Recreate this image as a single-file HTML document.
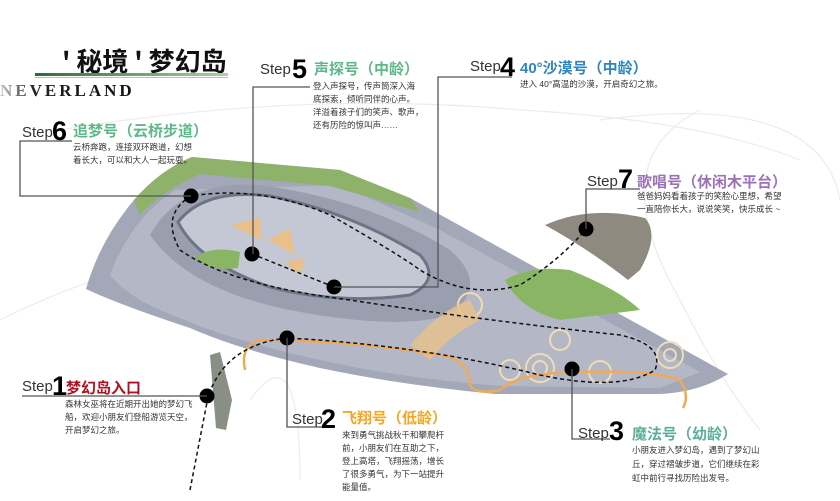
<!DOCTYPE html>
<html><head><meta charset="utf-8"><style>
html,body{margin:0;padding:0;background:#fff;}
svg{display:block;}
.st{font-family:"Liberation Sans",sans-serif;font-size:15px;fill:#333;}
.num{font-family:"Liberation Sans",sans-serif;font-weight:bold;font-size:27px;fill:#000;}
.tt{font-family:"Liberation Sans","Noto Sans CJK SC",sans-serif;font-size:15px;font-weight:bold;}
.d{font-family:"Liberation Sans","Noto Sans CJK SC",sans-serif;font-size:8.5px;fill:#333;}
.ln{stroke:#555;stroke-width:1.3;fill:none;}
</style></head><body>
<svg width="840" height="501" viewBox="0 0 840 501" xmlns="http://www.w3.org/2000/svg">
<defs>
<linearGradient id="ul" x1="0" x2="1"><stop offset="0" stop-color="#2e6b3c"/><stop offset="1" stop-color="#a9d3a0"/></linearGradient>
<linearGradient id="nv" x1="0" x2="1"><stop offset="0" stop-color="#ccc"/><stop offset="0.25" stop-color="#222"/><stop offset="1" stop-color="#111"/></linearGradient>
</defs>
<g stroke="#ececec" fill="none" stroke-width="1.2">
<path d="M60 130 Q300 90 520 110 Q700 120 800 160"/>
<path d="M600 120 Q820 90 840 200"/>
<path d="M700 110 Q600 160 680 300 Q720 380 760 430"/>
<path d="M0 320 Q120 260 260 240"/>
<path d="M250 400 Q300 330 300 480"/>
</g>
<!-- island -->
<path d="M86 289 Q100 240 134 200 Q160 170 192 157 L340 170 L410 198 L728 374 Q700 392 660 394 L495 394 Q400 385 320 368 Q240 350 190 328 Q120 305 86 289 Z" fill="#a3a8b8"/>
<path d="M110 275 Q130 220 175 190 L340 185 L440 230 L700 372 L660 388 L500 386 Q400 378 320 360 Q230 340 180 318 Q130 300 110 275 Z" fill="#b4b8c6"/>
<path d="M134 200 Q160 170 192 157 L340 170 L410 198 L420 212 L330 186 L200 174 Q160 192 140 215 Z" fill="#8fb26a"/>
<path d="M150 235 Q180 180 260 185 Q370 200 450 250 Q490 285 450 315 Q400 330 300 312 Q190 292 150 235 Z" fill="#9a9faf"/>
<path d="M178 222 Q205 188 270 196 Q350 212 420 255 Q442 280 410 295 Q340 305 270 287 Q198 262 178 222 Z" fill="#c4c8d4" stroke="#6f7383" stroke-width="3"/>
<path d="M195 258 Q210 245 240 252 L238 268 Q210 272 195 258 Z" fill="#89b565"/>
<path d="M230 225 L260 218 L262 240 Z M268 240 L290 228 L295 255 Z M285 262 L305 258 L300 275 Z" fill="#e9c08a"/>
<path d="M505 280 Q530 265 570 270 Q620 290 640 310 L560 320 Q520 310 505 280 Z" fill="#89b565"/>
<path d="M545 225 Q590 205 645 218 Q660 235 640 270 L628 280 Q590 250 545 225 Z" fill="#8f8a80"/>
<g fill="none" stroke="#f0dcb4" stroke-width="2">
<circle cx="470" cy="305" r="12"/><circle cx="510" cy="370" r="10"/><circle cx="540" cy="368" r="14"/><circle cx="540" cy="368" r="7"/><circle cx="600" cy="372" r="11"/><circle cx="670" cy="355" r="13"/><circle cx="670" cy="355" r="6"/><circle cx="560" cy="340" r="10"/>
</g>
<path d="M410 345 Q440 310 470 300 L480 320 Q450 335 430 360 Z" fill="#e9c08a" opacity=".8"/>
<path d="M245 370 Q240 345 260 340 Q350 340 440 355 Q470 360 470 385 Q475 395 500 390 Q520 372 580 372 Q650 370 680 380 Q690 395 683 408" fill="none" stroke="#eeaa5a" stroke-width="2.5"/>
<path d="M210 355 L220 352 L232 400 L226 430 L216 428 Z" fill="#8a8f86"/>
<g fill="none" stroke="#111" stroke-width="1.5" stroke-dasharray="4 3">
<path d="M190 490 L208 397 Q225 345 287 338 Q420 345 540 375 Q620 392 655 370 Q665 345 620 335 Q480 320 350 300 Q230 285 180 250 Q160 215 191 196 Q260 185 330 215 Q400 255 420 270 Q470 300 520 285 Q560 260 586 229"/>
<path d="M252 254 L334 287"/>
</g>
<g fill="#000">
<circle cx="191" cy="196" r="7.5"/><circle cx="252" cy="254" r="7.5"/><circle cx="334" cy="287" r="7.5"/><circle cx="586" cy="229" r="7.5"/><circle cx="287" cy="338" r="7.5"/><circle cx="572" cy="369" r="7.5"/><circle cx="207" cy="396" r="7.5"/>
</g>
<path class="ln" d="M72 141 L20 141 L20 196 L191 196"/>
<path class="ln" d="M310 87 L253 87 L253 254"/>
<path class="ln" d="M512 77 L438 77 L438 287 L334 287"/>
<path class="ln" d="M640 189 L586 189 L586 229"/>
<path class="ln" d="M22 396 L207 396"/>
<path class="ln" d="M287 338 L287 427 L330 427"/>
<path class="ln" d="M572 369 L572 439 L610 439"/>
<text x="62" y="71" style="font-family:'Noto Sans CJK SC',sans-serif;font-size:26px;font-weight:bold;fill:#111">' 秘境 ' 梦幻岛</text>
<rect x="35" y="73" width="193" height="3" fill="url(#ul)"/>
<rect x="35" y="77" width="193" height="1" fill="#9cc"/>
<text x="0" y="96" style="font-family:'Liberation Serif',serif;font-size:17px;font-weight:bold;letter-spacing:3px" fill="url(#nv)">NEVERLAND</text>
<text x="22" y="137" class="st">Step</text><text x="52" y="140" class="num">6</text>
<text x="73" y="136" class="tt" fill="#5db889">追梦号（云桥步道）</text>
<text x="73" y="150" class="d">云桥奔跑，连接双环跑道，幻想</text>
<text x="73" y="163" class="d">着长大，可以和大人一起玩耍。</text>
<text x="260" y="74" class="st">Step</text><text x="292" y="78" class="num">5</text>
<text x="314" y="74" class="tt" fill="#5db889">声探号（中龄）</text>
<text x="313" y="89" class="d">登入声探号，传声筒深入海</text>
<text x="313" y="102" class="d">底探索，倾听同伴的心声。</text>
<text x="313" y="115" class="d">洋溢着孩子们的笑声、歌声，</text>
<text x="313" y="128" class="d">还有历险的惊叫声……</text>
<text x="470" y="71" class="st">Step</text><text x="500" y="76" class="num">4</text>
<text x="520" y="73" class="tt" fill="#2e86c1">40°沙漠号（中龄）</text>
<text x="520" y="87" class="d">进入 40°高温的沙漠，开启奇幻之旅。</text>
<text x="587" y="186" class="st">Step</text><text x="618" y="188" class="num">7</text>
<text x="637" y="187" class="tt" fill="#9b72b8">歌唱号（休闲木平台）</text>
<text x="637" y="199" class="d">爸爸妈妈看着孩子的笑脸心里想，希望</text>
<text x="637" y="212" class="d">一直陪你长大，说说笑笑，快乐成长 ~</text>
<text x="22" y="391" class="st">Step</text><text x="52" y="395" class="num">1</text>
<text x="66" y="393" class="tt" fill="#b01020">梦幻岛入口</text>
<text x="65" y="407" class="d">森林女巫将在近期开出她的梦幻飞</text>
<text x="65" y="420" class="d">船，欢迎小朋友们登船游览天空，</text>
<text x="65" y="433" class="d">开启梦幻之旅。</text>
<text x="292" y="424" class="st">Step</text><text x="321" y="428" class="num">2</text>
<text x="342" y="423" class="tt" fill="#f5a623">飞翔号（低龄）</text>
<text x="342" y="438" class="d">来到勇气挑战秋千和攀爬杆</text>
<text x="342" y="451" class="d">前，小朋友们在互助之下，</text>
<text x="342" y="464" class="d">登上高塔，飞翔摇荡，增长</text>
<text x="342" y="477" class="d">了很多勇气，为下一站提升</text>
<text x="342" y="490" class="d">能量值。</text>
<text x="578" y="438" class="st">Step</text><text x="609" y="440" class="num">3</text>
<text x="632" y="439" class="tt" fill="#5aae9a">魔法号（幼龄）</text>
<text x="632" y="453" class="d">小朋友进入梦幻岛，遇到了梦幻山</text>
<text x="632" y="467" class="d">丘，穿过褶皱步道，它们继续在彩</text>
<text x="632" y="481" class="d">虹中前行寻找历险出发号。</text>
</svg>
</body></html>
